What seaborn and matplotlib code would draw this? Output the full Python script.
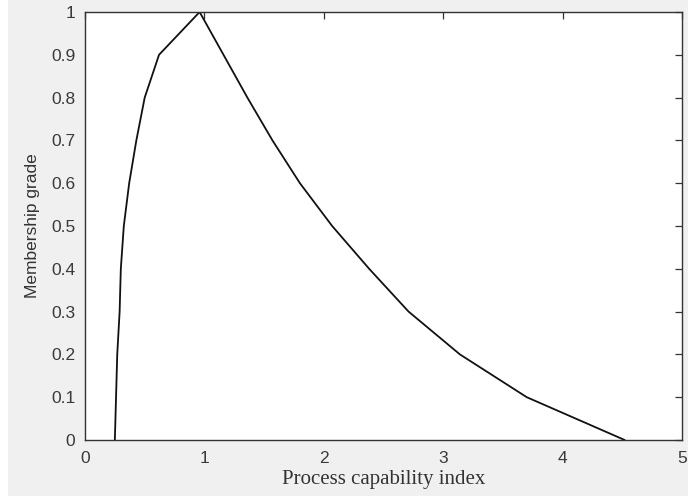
import numpy as np
import pandas as pd
import matplotlib
matplotlib.use("Agg")
import matplotlib.pyplot as plt
import seaborn as sns

# Membership function vertices
rise_x = [0.25, 0.26, 0.27, 0.29, 0.30, 0.325, 0.37, 0.43, 0.50, 0.62, 0.96]
rise_y = [0.0, 0.1, 0.2, 0.3, 0.4, 0.5, 0.6, 0.7, 0.8, 0.9, 1.0]
fall_x = [1.16, 1.36, 1.57, 1.80, 2.07, 2.38, 2.71, 3.14, 3.70, 4.52]
fall_y = [0.9, 0.8, 0.7, 0.6, 0.5, 0.4, 0.3, 0.2, 0.1, 0.0]

x_ticks = [0, 1, 2, 3, 4, 5]
y_ticks = [0, 0.1, 0.2, 0.3, 0.4, 0.5, 0.6, 0.7, 0.8, 0.9, 1]
y_tick_labels = ["0", "0.1", "0.2", "0.3", "0.4", "0.5", "0.6", "0.7", "0.8", "0.9", "1"]

df = pd.DataFrame({"x": rise_x + fall_x, "y": rise_y + fall_y})

sns.set_style("white")
plt.rcParams["font.family"] = ["Liberation Sans", "DejaVu Sans"]

fig = plt.figure(figsize=(6.88, 4.98), dpi=100, facecolor="#f0f0f0")
ax = fig.add_axes([85 / 688, 1 - 440 / 498, (682 - 85) / 688, (440 - 12) / 498])
ax.set_facecolor("white")

sns.lineplot(data=df, x="x", y="y", sort=False, color="#111111", linewidth=1.3, ax=ax, estimator=None)

ax.set_xlim(0, 5)
ax.set_ylim(0, 1)
ax.set_xticks(x_ticks)
ax.set_xticklabels([str(t) for t in x_ticks])
ax.set_yticks(y_ticks)
ax.set_yticklabels(y_tick_labels)

axcol = "#333333"
for s in ax.spines.values():
    s.set_visible(True)
    s.set_color(axcol)
    s.set_linewidth(1.0)
ax.tick_params(direction="in", length=5, width=0.9, color=axcol, labelcolor="#3a3a3a",
               labelsize=12.5, top=True, right=True)
ax.tick_params(axis="y", pad=7)
ax.tick_params(axis="x", pad=8)

ax.set_xlabel("Process capability index", family=["Liberation Serif", "DejaVu Serif"],
              fontsize=15, color="#333333", labelpad=3)
ax.set_ylabel("Membership grade", fontsize=12.5, color="#333333", labelpad=8)

# white strips at the left and bottom edges of the image
fig.patches.append(plt.Rectangle((0, 0), 8 / 688, 1, transform=fig.transFigure,
                                 facecolor="white", edgecolor="none", zorder=-1))
fig.patches.append(plt.Rectangle((0, 0), 1, 2 / 498, transform=fig.transFigure,
                                 facecolor="white", edgecolor="none", zorder=-1))

fig.savefig("out.png", dpi=100, facecolor=fig.get_facecolor())
